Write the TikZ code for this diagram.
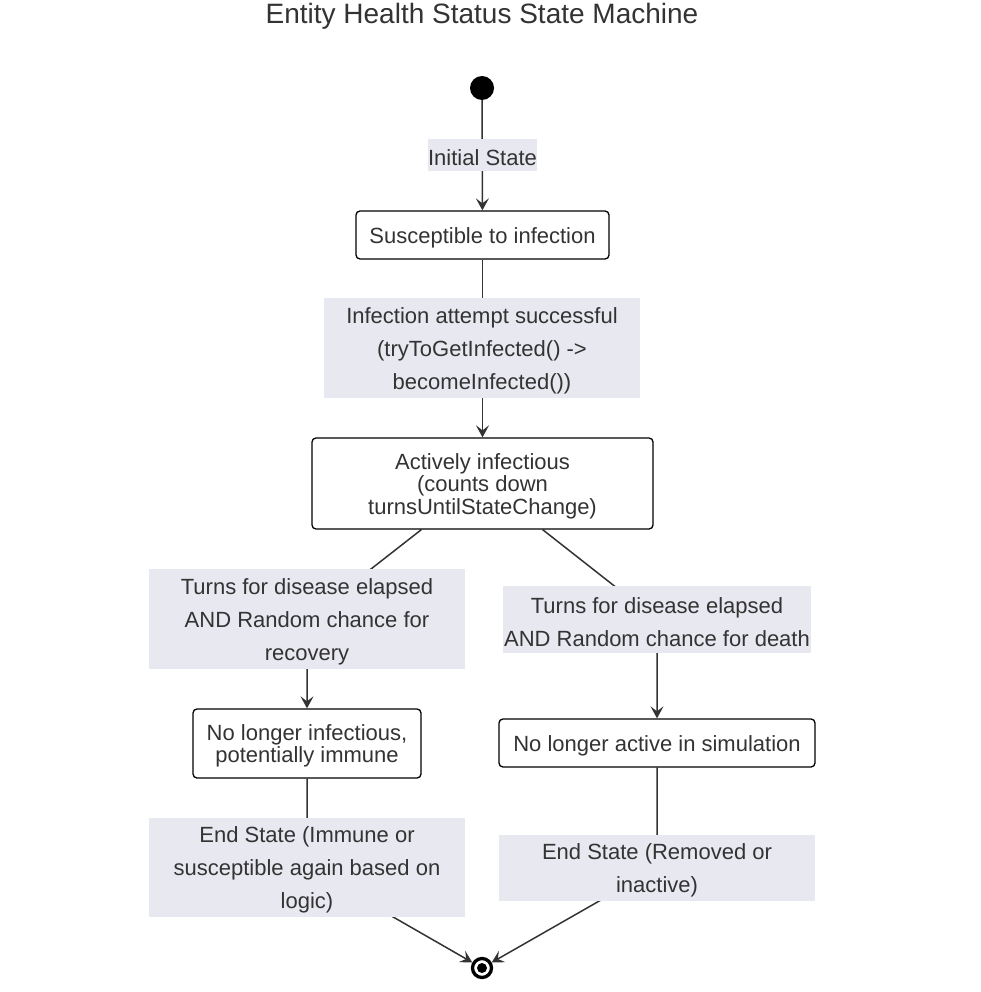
\documentclass[tikz,border=0pt]{standalone}
\usepackage{fontspec}
\setmainfont{Liberation Sans}
\usetikzlibrary{arrows.meta,backgrounds}
\definecolor{ink}{HTML}{333333}
\definecolor{lblbg}{HTML}{E8E8F0}
\newcommand{\lift}{\rule{0pt}{21pt}}
\begin{document}
\begin{tikzpicture}[x=1pt,y=-1pt,
  statebox/.style={draw=black, line width=1.3pt, rounded corners=4pt, fill=white, text=ink, inner sep=0pt, align=center, font=\fontsize{22}{22.5}\selectfont},
  elabel/.style={fill=lblbg, text=ink, inner sep=0pt, align=center, font=\fontsize{22}{33}\selectfont},
  flow/.style={draw=ink, line width=1.5pt},
  arr/.style={flow, -{Stealth[length=12pt,width=13pt,inset=5pt]}}]
\useasboundingbox (0,0) rectangle (981,992);
\begin{pgfonlayer}{background}
  \fill[white] (0,0) rectangle (981,992);
\end{pgfonlayer}

\node[text=ink, font=\fontsize{28}{28}\selectfont] (title) at (482,16) {Entity Health Status State Machine};

\node[circle, fill=black, minimum size=24pt, inner sep=0pt] (start) at (482,88) {};

\node[elabel, minimum width=109pt, minimum height=32pt] (linit) at (482.5,155) {\lift Initial State};
\node[statebox, minimum width=253pt, minimum height=48pt] (susc) at (482.5,235) {\lift Susceptible to infection};
\node[elabel, minimum width=316pt, minimum height=100pt] (linf) at (482,348) {\lift Infection attempt successful\\(tryToGetInfected() ->\\becomeInfected())};
\node[statebox, minimum width=341pt, minimum height=91pt] (active) at (482.5,483.5) {\lift Actively infectious\\(counts down\\turnsUntilStateChange)};

\node[elabel, minimum width=316pt, minimum height=100pt] (l1) at (307,619) {\lift Turns for disease elapsed\\AND Random chance for\\recovery};
\node[elabel, minimum width=308pt, minimum height=67pt] (l2) at (657,619.5) {\lift Turns for disease elapsed\\AND Random chance for death};

\node[statebox, minimum width=228pt, minimum height=69pt] (immune) at (307,743.5) {\lift No longer infectious,\\potentially immune};
\node[statebox, minimum width=316pt, minimum height=48pt] (removed) at (657,743) {\lift No longer active in simulation};

\node[elabel, minimum width=316pt, minimum height=99pt] (lend1) at (307,867.5) {\lift End State (Immune or\\susceptible again based on\\logic)};
\node[elabel, minimum width=316pt, minimum height=66pt] (lend2) at (657,868) {\lift End State (Removed or\\inactive)};

\node[circle, draw=black, line width=3.3pt, fill=white, minimum size=19pt, inner sep=0pt] (endst) at (482,968) {};
\fill[black] (endst.center) circle (5pt);

\coordinate (a1) at ([xshift=110pt]active.south west);
\coordinate (a2) at ([xshift=-111pt]active.south east);

\begin{pgfonlayer}{background}
  \draw[arr] (start) -- (susc);
  \draw[arr] (susc) -- (active);
  \draw[arr] (a1) -- (l1.center) -- (immune.north);
  \draw[arr] (a2) -- (l2.center) -- (removed.north);
  \draw[arr] (immune.south) -- (lend1.center) -- (endst);
  \draw[arr] (removed.south) -- (lend2.center) -- (endst);
\end{pgfonlayer}
\end{tikzpicture}
\end{document}
